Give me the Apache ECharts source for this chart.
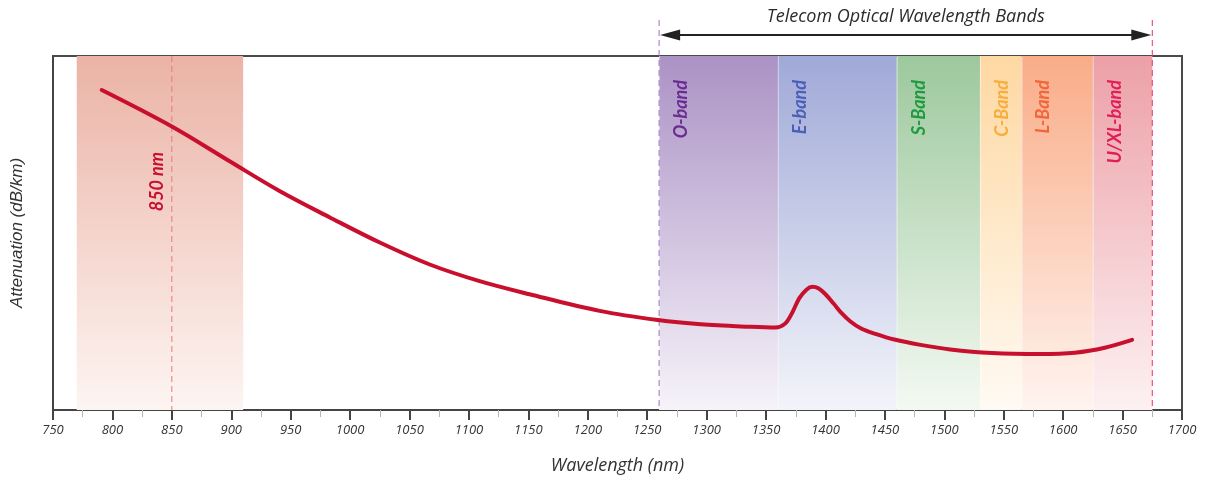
<!DOCTYPE html>
<html>
<head>
<meta charset="utf-8">
<script src="https://cdn.jsdelivr.net/npm/echarts@6/dist/echarts.min.js"></script>
<style>
  html, body { margin: 0; padding: 0; background: #ffffff; }
  #chart { width: 1206px; height: 480px; }
</style>
</head>
<body>
<div id="chart"></div>
<script>
// ---------- data ----------
const xTicks = [750, 800, 850, 900, 950, 1000, 1050, 1100, 1150, 1200, 1250, 1300, 1350, 1400, 1450, 1500, 1550, 1600, 1650, 1700];

// attenuation curve (relative units)
const wavelengths = [791, 850, 899, 941, 983, 1025, 1067, 1109, 1151, 1210, 1259, 1295, 1337, 1358, 1366, 1372, 1378, 1384, 1389, 1394, 1400, 1407, 1414, 1421, 1430, 1442, 1458, 1480, 1505, 1540, 1581, 1610, 1635, 1658];
const attenuation = [90.4, 80.1, 70.2, 61.8, 54.4, 47.3, 41.1, 36.4, 32.7, 28.0, 25.4, 24.2, 23.5, 23.3, 24.4, 27.5, 31.6, 34.0, 34.8, 34.4, 32.7, 30.0, 27.2, 25.0, 23.0, 21.5, 19.9, 18.4, 17.1, 16.1, 15.8, 16.2, 17.6, 19.8];

// telecom bands
const bandNames = ['O-band', 'E-band', 'S-Band', 'C-Band', 'L-Band', 'U/XL-band'];
const bandStart = [1260, 1360, 1460, 1530, 1565, 1625];
const bandEnd   = [1360, 1460, 1530, 1565, 1625, 1675];

// 850 nm window
const window850 = [770, 910];
const marker850 = 850;
const marker850Label = '850 nm';

// telecom range annotation
const telecomRange = [1260, 1675];
const telecomLabel = 'Telecom Optical Wavelength Bands';

const yMin = 0, yMax = 100;

// ---------- styles ----------
const bandStyles = [
  { top: '#ab92c5', bottom: '#f6f3f9', label: '#6a2c91' },
  { top: '#a0a9d7', bottom: '#f3f4fa', label: '#4a5fb5' },
  { top: '#9dc89d', bottom: '#f3f9f2', label: '#1f9a40' },
  { top: '#fed8a2', bottom: '#fffaf3', label: '#f9ad3c' },
  { top: '#f9ac88', bottom: '#fff4ef', label: '#f2643a' },
  { top: '#eca0a7', bottom: '#fdf1f2', label: '#e01f5a' }
];
const win850Style = { top: '#ebb3a6', bottom: '#fdf5f2', line: '#e57b7b', label: '#c8102e' };
const curveColor = '#c8102e';
const labelFont = 'Lato, "Open Sans", sans-serif';
const textFont = '"Open Sans", Lato, sans-serif';

const curveData = wavelengths.map((w, i) => [w, attenuation[i]]);
const bandData = bandStart.map((s, i) => [s, bandEnd[i]]);

function gradient(top, bottom) {
  return new echarts.graphic.LinearGradient(0, 0, 0, 1, [
    { offset: 0, color: top }, { offset: 1, color: bottom }
  ]);
}

function renderBand(params, api) {
  const i = params.dataIndex;
  const s = bandStyles[i];
  const p0 = api.coord([api.value(0), yMax]);
  const p1 = api.coord([api.value(1), yMin]);
  return {
    type: 'group',
    children: [
      {
        type: 'rect',
        shape: { x: p0[0], y: p0[1], width: p1[0] - p0[0], height: p1[1] - p0[1] },
        style: { fill: gradient(s.top, s.bottom) }
      },
      {
        type: 'line',
        shape: { x1: p0[0] + 0.5, y1: p0[1], x2: p0[0] + 0.5, y2: p1[1] },
        style: { stroke: 'rgba(255,255,255,0.45)', lineWidth: 1 }
      },
      {
        type: 'text',
        x: p0[0] + 22,
        y: p0[1] + 24,
        rotation: Math.PI / 2,
        style: {
          text: bandNames[i],
          fill: s.label,
          font: 'italic bold 18px ' + labelFont,
          align: 'right',
          verticalAlign: 'middle'
        }
      }
    ]
  };
}

function render850(params, api) {
  const p0 = api.coord([api.value(0), yMax]);
  const p1 = api.coord([api.value(1), yMin]);
  const m = api.coord([api.value(2), yMax]);
  return {
    type: 'group',
    children: [
      {
        type: 'rect',
        shape: { x: p0[0], y: p0[1], width: p1[0] - p0[0], height: p1[1] - p0[1] },
        style: { fill: gradient(win850Style.top, win850Style.bottom) }
      },
      {
        type: 'line',
        shape: { x1: m[0], y1: p0[1], x2: m[0], y2: p1[1] },
        style: { stroke: win850Style.line, lineWidth: 1, lineDash: [6, 4] }
      },
      {
        type: 'text',
        x: m[0] - 15,
        y: p0[1] + 96,
        rotation: Math.PI / 2,
        style: {
          text: marker850Label,
          fill: win850Style.label,
          font: 'italic bold 18px ' + labelFont,
          align: 'right',
          verticalAlign: 'middle'
        }
      }
    ]
  };
}

function renderTelecom(params, api) {
  const a = api.coord([api.value(0), yMax]);
  const b = api.coord([api.value(1), yMin]);
  const top = a[1];
  const ay = top - 21;
  const x0 = a[0], x1 = b[0];
  return {
    type: 'group',
    children: [
      {
        type: 'line',
        shape: { x1: x0, y1: top - 36, x2: x0, y2: b[1] },
        style: { stroke: '#9b6fc2', lineWidth: 1, lineDash: [6, 4] }
      },
      {
        type: 'line',
        shape: { x1: x1, y1: top - 36, x2: x1, y2: b[1] },
        style: { stroke: '#e8336b', lineWidth: 1, lineDash: [6, 4] }
      },
      {
        type: 'line',
        shape: { x1: x0 + 10, y1: ay, x2: x1 - 10, y2: ay },
        style: { stroke: '#222', lineWidth: 2 }
      },
      {
        type: 'polygon',
        shape: { points: [[x0 + 1, ay], [x0 + 21, ay - 5.5], [x0 + 21, ay + 5.5]] },
        style: { fill: '#222' }
      },
      {
        type: 'polygon',
        shape: { points: [[x1 - 1, ay], [x1 - 21, ay - 5.5], [x1 - 21, ay + 5.5]] },
        style: { fill: '#222' }
      },
      {
        type: 'text',
        x: (x0 + x1) / 2,
        y: top - 39,
        style: {
          text: telecomLabel,
          fill: '#2b2b2b',
          font: 'italic 18px ' + textFont,
          align: 'center',
          verticalAlign: 'middle'
        }
      }
    ]
  };
}

const chart = echarts.init(document.getElementById('chart'), null, { renderer: 'canvas' });
chart.setOption({
  animation: false,
  backgroundColor: '#ffffff',
  grid: {
    left: 53, right: 24, top: 56, bottom: 68,
    show: true, borderColor: '#4a4a4a', borderWidth: 2, backgroundColor: 'transparent'
  },
  xAxis: {
    type: 'value',
    min: xTicks[0],
    max: xTicks[xTicks.length - 1],
    interval: xTicks[1] - xTicks[0],
    name: 'Wavelength (nm)',
    nameLocation: 'middle',
    nameGap: 47,
    nameTextStyle: { fontFamily: textFont, fontStyle: 'italic', fontSize: 18, color: '#333' },
    axisLine: { show: true, onZero: false, lineStyle: { color: '#444', width: 2 } },
    axisTick: { show: true, length: 10, lineStyle: { color: '#444', width: 2 } },
    minorTick: { show: true, splitNumber: 2, length: 7, lineStyle: { color: '#b5b5b5', width: 1 } },
    axisLabel: {
      margin: 14, fontFamily: textFont, fontStyle: 'italic', fontSize: 13, color: '#333',
      formatter: function (v) { return String(v); }
    },
    splitLine: { show: false }
  },
  yAxis: {
    type: 'value',
    min: yMin,
    max: yMax,
    name: 'Attenuation (dB/km)',
    nameLocation: 'middle',
    nameGap: 27,
    nameRotate: 90,
    nameTextStyle: { fontFamily: 'Liberation Sans', fontStyle: 'italic', fontSize: 17, color: '#333' },
    axisLine: { show: true, lineStyle: { color: '#444', width: 2 } },
    axisTick: { show: false },
    axisLabel: { show: false },
    splitLine: { show: false }
  },
  series: [
    {
      type: 'custom',
      name: '850 window',
      renderItem: render850,
      data: [[window850[0], window850[1], marker850]],
      z: 1,
      silent: true
    },
    {
      type: 'custom',
      name: 'bands',
      renderItem: renderBand,
      data: bandData,
      z: 1,
      silent: true
    },
    {
      type: 'custom',
      name: 'telecom',
      renderItem: renderTelecom,
      data: [[telecomRange[0], telecomRange[1]]],
      clip: false,
      z: 2,
      silent: true
    },
    {
      type: 'line',
      name: 'Attenuation',
      data: curveData,
      smooth: 0.35,
      showSymbol: false,
      symbol: 'none',
      lineStyle: { color: curveColor, width: 4, cap: 'round' },
      z: 5
    }
  ]
});
</script>
</body>
</html>
